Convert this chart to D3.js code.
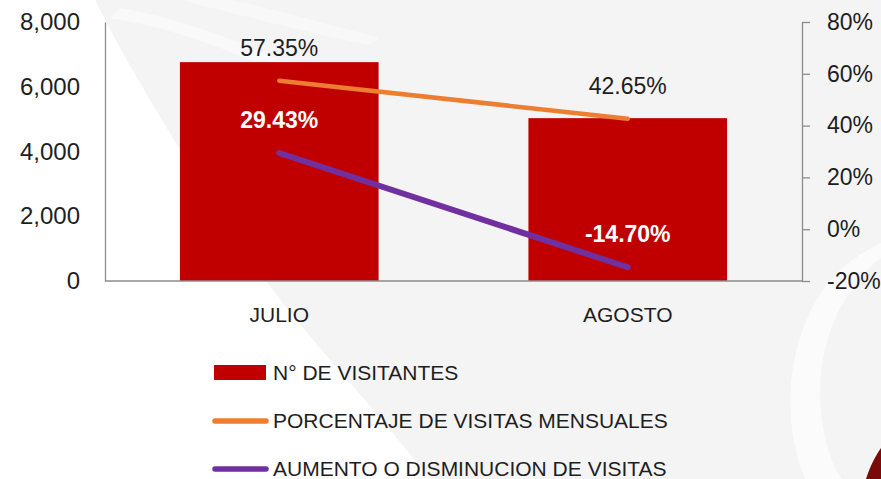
<!DOCTYPE html>
<html>
<head>
<meta charset="utf-8">
<script src="https://cdn.jsdelivr.net/npm/d3@7"></script>
<style>
  body { margin: 0; background: #fff; }
  svg { display: block; font-family: 'Liberation Sans', Arial, sans-serif; }
</style>
</head>
<body>
<div id="chart"></div>
<script>
// Data
const months = ['JULIO', 'AGOSTO'];
const visitors = [6760, 5030];
const monthlyShare = [0.5735, 0.4265];
const variation = [0.2943, -0.1470];
const leftTicks = [0, 2000, 4000, 6000, 8000];
const rightTicks = [-0.2, 0, 0.2, 0.4, 0.6, 0.8];
const legendLabels = ['N° DE VISITANTES', 'PORCENTAJE DE VISITAS MENSUALES', 'AUMENTO O DISMINUCION DE VISITAS'];

const width = 881;
const height = 479;
const plot = { left: 105, right: 802, top: 22, bottom: 281 };
const colors = { bar: '#c00000', share: '#ed7d31', variation: '#7030a0' };

// plain hyphen for negatives, like the original
const locale = d3.formatLocale({ decimal: '.', thousands: ',', grouping: [3], currency: ['', ''], minus: '-' });
const fmtPct0 = locale.format('.0%');
const fmtPct2 = locale.format('.2%');
const fmtThousands = locale.format(',');

const svg = d3.select('#chart')
  .append('svg')
  .attr('width', width)
  .attr('height', height);

// Background watermark (approximation)
const bg = svg.append('g').attr('class', 'background');
bg.append('path')
  .attr('d', 'M95,0 L881,0 L881,479 L430,479 C360,390 300,330 262,275 C220,210 150,110 95,0 Z')
  .attr('fill', '#f4f4f4');
bg.append('path')
  .attr('d', 'M110,18 C190,30 290,70 370,130 L380,124 C300,60 200,22 120,8 Z')
  .attr('fill', '#ffffff')
  .attr('opacity', 0.45);
bg.append('path')
  .attr('d', 'M180,0 C260,20 320,35 370,45 L380,38 C330,25 280,10 230,0 Z')
  .attr('fill', '#ffffff')
  .attr('opacity', 0.4);
bg.append('path')
  .attr('d', 'M805,479 C780,420 785,330 835,275 C852,258 870,248 881,243 L881,258 C845,285 812,345 822,420 C826,450 835,470 842,479 Z')
  .attr('fill', '#ffffff')
  .attr('opacity', 0.6);
bg.append('path')
  .attr('d', 'M866,479 C870,466 876,455 881,448 L881,479 Z')
  .attr('fill', '#7a0a0a');

// Scales
const x = d3.scaleBand()
  .domain(months)
  .range([plot.left, plot.right])
  .paddingInner(0.43)
  .paddingOuter(0.215);

const yLeft = d3.scaleLinear()
  .domain([0, 8000])
  .range([plot.bottom, plot.top]);

const yRight = d3.scaleLinear()
  .domain([-0.2, 0.8])
  .range([plot.bottom, plot.top]);

const cx = d => x(d) + x.bandwidth() / 2;

// Bars
svg.append('g')
  .selectAll('rect')
  .data(months)
  .enter()
  .append('rect')
  .attr('x', d => x(d))
  .attr('y', (d, i) => yLeft(visitors[i]))
  .attr('width', x.bandwidth())
  .attr('height', (d, i) => yLeft(0) - yLeft(visitors[i]))
  .attr('fill', colors.bar);

// Axes
const leftAxis = svg.append('g')
  .attr('transform', 'translate(' + plot.left + ',0)')
  .call(d3.axisLeft(yLeft)
    .tickValues(leftTicks)
    .tickFormat(fmtThousands)
    .tickSize(0)
    .tickPadding(25));

const rightAxis = svg.append('g')
  .attr('transform', 'translate(' + plot.right + ',0)')
  .call(d3.axisRight(yRight)
    .tickValues(rightTicks)
    .tickFormat(fmtPct0)
    .tickSizeInner(8)
    .tickSizeOuter(0)
    .tickPadding(17));

svg.append('line')
  .attr('x1', plot.left)
  .attr('x2', plot.right)
  .attr('y1', yLeft(0))
  .attr('y2', yLeft(0))
  .attr('stroke', '#8c8c8c')
  .attr('stroke-width', 1.3);

[leftAxis, rightAxis].forEach(axis => {
  axis.select('.domain').attr('stroke', '#8c8c8c').attr('stroke-width', 1.3);
  axis.selectAll('.tick line').attr('stroke', '#8c8c8c').attr('stroke-width', 1.3);
  axis.selectAll('.tick text')
    .attr('fill', '#1e1e1e')
    .style('font-family', "'Liberation Sans', Arial, sans-serif");
});
leftAxis.selectAll('.tick text').style('font-size', '24px');
rightAxis.selectAll('.tick text').style('font-size', '23px');

// Category labels
svg.append('g')
  .selectAll('text')
  .data(months)
  .enter()
  .append('text')
  .attr('x', d => cx(d))
  .attr('y', 315)
  .attr('dy', '0.35em')
  .attr('text-anchor', 'middle')
  .style('font-size', '21px')
  .attr('fill', '#1e1e1e')
  .text(d => d);

// Lines
const lineSeries = [
  { values: monthlyShare, color: colors.share, width: 4.5, labelColor: '#1e1e1e', weight: 'normal' },
  { values: variation, color: colors.variation, width: 6, labelColor: '#ffffff', weight: 'bold' }
];

const line = d3.line()
  .x(d => cx(d.month))
  .y(d => yRight(d.value));

lineSeries.forEach(series => {
  const pts = months.map((m, i) => ({ month: m, value: series.values[i] }));

  svg.append('path')
    .datum(pts)
    .attr('d', line)
    .attr('fill', 'none')
    .attr('stroke', series.color)
    .attr('stroke-width', series.width)
    .attr('stroke-linecap', 'round');

  svg.append('g')
    .selectAll('text')
    .data(pts)
    .enter()
    .append('text')
    .attr('x', d => cx(d.month))
    .attr('y', d => yRight(d.value) - 33)
    .attr('dy', '0.35em')
    .attr('text-anchor', 'middle')
    .style('font-size', '23px')
    .style('font-weight', series.weight)
    .attr('fill', series.labelColor)
    .text(d => fmtPct2(d.value));
});

// Legend
const legendX = 214;
const legendY = [372.5, 421, 469];
const legend = svg.append('g').attr('class', 'legend');

legend.append('rect')
  .attr('x', legendX)
  .attr('y', legendY[0] - 7.5)
  .attr('width', 52)
  .attr('height', 15)
  .attr('fill', colors.bar);

[colors.share, colors.variation].forEach((c, i) => {
  legend.append('line')
    .attr('x1', legendX + 1)
    .attr('x2', legendX + 52)
    .attr('y1', legendY[i + 1])
    .attr('y2', legendY[i + 1])
    .attr('stroke', c)
    .attr('stroke-width', 5.5)
    .attr('stroke-linecap', 'round');
});

legend.selectAll('text')
  .data(legendLabels)
  .enter()
  .append('text')
  .attr('x', 273)
  .attr('y', (d, i) => legendY[i])
  .attr('dy', '0.35em')
  .style('font-size', '21px')
  .attr('fill', '#1e1e1e')
  .text(d => d);
</script>
</body>
</html>
